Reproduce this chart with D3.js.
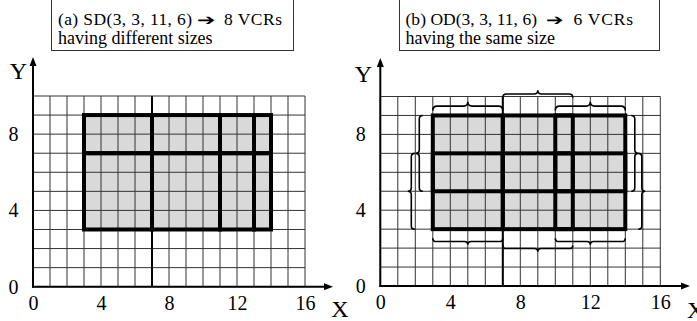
<!DOCTYPE html>
<html><head><meta charset="utf-8">
<script src="https://cdn.jsdelivr.net/npm/d3@7"></script>
<style>
html,body{margin:0;padding:0;background:#fff}
svg{display:block}
text{font-family:"Liberation Serif","Times New Roman",serif;fill:#000}
</style>
</head><body>
<script>
// Grid extent and tick labels
const xMax = 16, yMax = 10;
const xTicks = [0, 4, 8, 12, 16];
const yTicks = [0, 4, 8];
// Region being decomposed: x, y, width, height
const region = [3, 3, 11, 6];
// Split line drawn across the whole grid
const splitX = 7;
// SD: column and row edges of the 8 VCRs
const sdColEdges = [3, 7, 11, 13, 14];
const sdRowEdges = [3, 7, 9];
// OD: overlapping spans of the 6 equal-size VCRs
const odColSpans = [[3, 7], [7, 11], [10, 14]];
const odRowSpans = [[3, 7], [5, 9]];
// Caption lines
const captionA = ["(a) SD(3, 3, 11, 6)", "8 VCRs", "having different sizes"];
const captionB = ["(b) OD(3, 3, 11, 6)", "6 VCRs", "having the same size"];

const W = 697, H = 321;
const svg = d3.select("body").append("svg").attr("width", W).attr("height", H);

const panels = [
  { xr: [33, 305], yr: [286.7, 96], box: [51, 293], caption: captionA,
    capX: [[58, 134], [197, 19], [224, 58]],
    yTip: 57, xTip: 333, yLab: [18.5, 78.5], xLab: [340, 317], xAnchor: "middle", kind: "sd" },
  { xr: [380.3, 660.3], yr: [286, 96.5], box: [399, 659], caption: captionB,
    capX: [[405.5, 131.5], [546, 18], [573.5, 59.5]],
    yTip: 58, xTip: 690, yLab: [363.5, 81.5], xLab: [687, 318], xAnchor: "start", kind: "od" }
];

function bracePath(p1, p2, n, d) {
  const len = Math.hypot(p2[0] - p1[0], p2[1] - p1[1]);
  const u = [(p2[0] - p1[0]) / len, (p2[1] - p1[1]) / len];
  const r = d / 2;
  const m = [(p1[0] + p2[0]) / 2, (p1[1] + p2[1]) / 2];
  const P = (b, a, c) => [b[0] + a * u[0] + c * n[0], b[1] + a * u[1] + c * n[1]];
  const f = p => p[0].toFixed(2) + "," + p[1].toFixed(2);
  return "M" + f(p1) +
    "Q" + f(P(p1, 0, r)) + " " + f(P(p1, r, r)) +
    "L" + f(P(m, -r, r)) +
    "Q" + f(P(m, 0, r)) + " " + f(P(m, 0, d)) +
    "Q" + f(P(m, 0, r)) + " " + f(P(m, r, r)) +
    "L" + f(P(p2, -r, r)) +
    "Q" + f(P(p2, 0, r)) + " " + f(p2);
}

panels.forEach(p => {
  const x = d3.scaleLinear().domain([0, xMax]).range(p.xr);
  const y = d3.scaleLinear().domain([0, yMax]).range(p.yr);
  const g = svg.append("g");

  // caption box
  g.append("rect").attr("x", p.box[0] + 0.5).attr("y", -2)
    .attr("width", p.box[1] - p.box[0]).attr("height", 52.5)
    .attr("fill", "#fff").attr("stroke", "#333").attr("stroke-width", 1);
  const cap = g.append("g");
  cap.append("text").attr("x", p.capX[0][0]).attr("y", 25).attr("font-size", 17.5)
    .attr("textLength", p.capX[0][1]).attr("lengthAdjust", "spacing").text(p.caption[0]);
  cap.append("text").attr("x", p.capX[1][0]).attr("y", 24.5).attr("font-size", 15)
    .attr("font-family", "DejaVu Sans")
    .attr("textLength", p.capX[1][1]).attr("lengthAdjust", "spacingAndGlyphs").text("\u2794");
  cap.append("text").attr("x", p.capX[2][0]).attr("y", 25).attr("font-size", 17.5)
    .attr("textLength", p.capX[2][1]).attr("lengthAdjust", "spacing").text(p.caption[1]);
  cap.append("text").attr("x", p.capX[0][0]).attr("y", 44).attr("font-size", 18)
    .text(p.caption[2]);

  // shaded region
  g.append("rect")
    .attr("x", x(region[0])).attr("y", y(region[1] + region[3]))
    .attr("width", x(region[0] + region[2]) - x(region[0]))
    .attr("height", y(region[1]) - y(region[1] + region[3]))
    .attr("fill", "#d9d9d9");

  // unit grid
  const grid = g.append("g").attr("stroke", "#333").attr("stroke-width", 1);
  grid.selectAll("line.v").data(d3.range(0, xMax + 1)).join("line")
    .attr("x1", d => x(d)).attr("x2", d => x(d)).attr("y1", y(0)).attr("y2", y(yMax));
  grid.selectAll("line.h").data(d3.range(0, yMax + 1)).join("line")
    .attr("y1", d => y(d)).attr("y2", d => y(d)).attr("x1", x(0)).attr("x2", x(xMax));

  // full-height split line
  g.append("line").attr("x1", x(splitX)).attr("x2", x(splitX))
    .attr("y1", y(0)).attr("y2", y(yMax)).attr("stroke", "#000").attr("stroke-width", 2);

  // VCR outlines
  let cells = [];
  if (p.kind === "sd") {
    for (let i = 0; i < sdColEdges.length - 1; i++)
      for (let j = 0; j < sdRowEdges.length - 1; j++)
        cells.push([sdColEdges[i], sdColEdges[i + 1], sdRowEdges[j], sdRowEdges[j + 1]]);
  } else {
    odColSpans.forEach(c => odRowSpans.forEach(r => cells.push([c[0], c[1], r[0], r[1]])));
  }
  g.append("g").selectAll("rect").data(cells).join("rect")
    .attr("x", d => x(d[0])).attr("y", d => y(d[3]))
    .attr("width", d => x(d[1]) - x(d[0])).attr("height", d => y(d[2]) - y(d[3]))
    .attr("fill", "none").attr("stroke", "#000").attr("stroke-width", 4);

  // braces marking each overlapping span
  if (p.kind === "od") {
    const br = g.append("g").attr("fill", "none").attr("stroke", "#000").attr("stroke-width", 1.6);
    const top = y(region[1] + region[3]), bot = y(region[1]);
    const lft = x(region[0]), rgt = x(region[0] + region[2]);
    odColSpans.forEach((c, i) => {
      const lvl = i % 2;
      const yt = top - (lvl ? 17.8 : 5);
      br.append("path").attr("d", bracePath([x(c[0]), yt], [x(c[1]), yt], [0, -1], lvl ? 7.3 : 8.6));
      const yb = bot + (lvl ? 16 : 9);
      br.append("path").attr("d", bracePath([x(c[0]), yb], [x(c[1]), yb], [0, 1], 6.7));
    });
    odRowSpans.forEach((r, i) => {
      const outer = i === 0;
      const xl = lft - (outer ? 18 : 10);
      br.append("path").attr("d", bracePath([xl, y(r[1])], [xl, y(r[0])], [-1, 0], 7));
      const xr = rgt + (outer ? 13 : 6);
      br.append("path").attr("d", bracePath([xr, y(r[1])], [xr, y(r[0])], [1, 0], 7));
    });
  }

  // axes with arrowheads
  const ax = g.append("g").attr("stroke", "#000");
  ax.append("line").attr("x1", x(0)).attr("x2", x(0)).attr("y1", y(0) + 1).attr("y2", p.yTip + 6)
    .attr("stroke-width", 2);
  ax.append("line").attr("x1", x(0) - 1).attr("x2", p.xTip - 6).attr("y1", y(0)).attr("y2", y(0))
    .attr("stroke-width", 2);
  ax.append("path").attr("fill", "#000").attr("stroke", "none")
    .attr("d", `M${x(0)},${p.yTip}L${x(0) - 3.5},${p.yTip + 9}L${x(0) + 3.5},${p.yTip + 9}Z`);
  ax.append("path").attr("fill", "#000").attr("stroke", "none")
    .attr("d", `M${p.xTip},${y(0)}L${p.xTip - 9},${y(0) - 3.5}L${p.xTip - 9},${y(0) + 3.5}Z`);

  // tick labels
  const xa = g.append("g").attr("transform", `translate(0,${y(0)})`)
    .call(d3.axisBottom(x).tickValues(xTicks).tickSize(0).tickPadding(9).tickFormat(d3.format("d")));
  const ya = g.append("g").attr("transform", `translate(${x(0)},0)`)
    .call(d3.axisLeft(y).tickValues(yTicks).tickSize(0).tickPadding(14.5).tickFormat(d3.format("d")));
  [xa, ya].forEach(a => {
    a.select(".domain").remove();
    a.selectAll("text").attr("font-family", null).attr("font-size", 20).attr("fill", "#000");
  });

  // axis names
  g.append("text").attr("x", p.yLab[0]).attr("y", p.yLab[1]).attr("text-anchor", "middle")
    .attr("font-size", 24).text("Y");
  g.append("text").attr("x", p.xLab[0]).attr("y", p.xLab[1]).attr("text-anchor", p.xAnchor)
    .attr("font-size", 24).text("X");
});
</script>
</body></html>
